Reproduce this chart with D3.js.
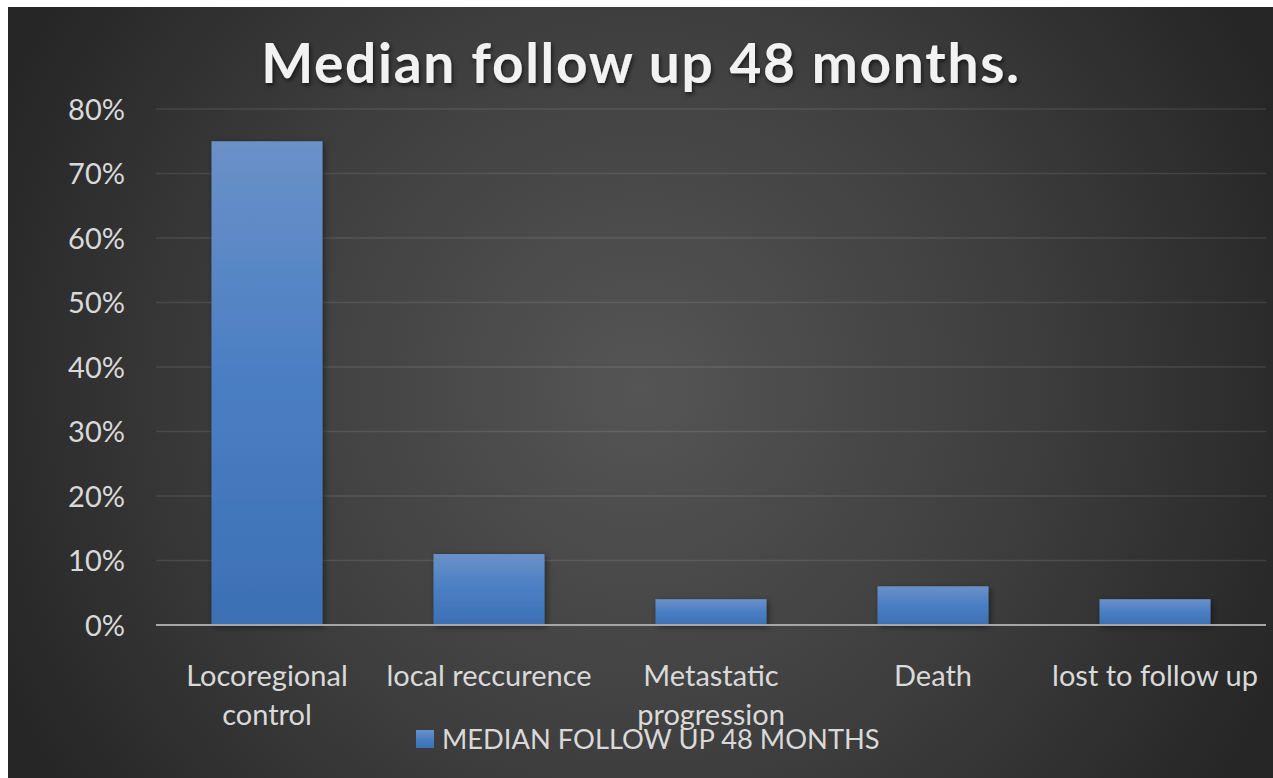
<!DOCTYPE html>
<html>
<head>
<meta charset="utf-8">
<script src="https://cdn.jsdelivr.net/npm/d3@7"></script>
<style>
html,body{margin:0;padding:0;background:#fff;overflow:hidden;}
svg{display:block;}
</style>
</head>
<body>
<svg id="chart" width="1273" height="778"></svg>
<script>
const title = "Median follow up 48 months.";
const categories = ["Locoregional control", "local reccurence", "Metastatic progression", "Death", "lost to follow up"];
const values = [0.75, 0.11, 0.04, 0.06, 0.04];
const seriesName = "MEDIAN FOLLOW UP 48 MONTHS";
const yTicks = [0, 0.1, 0.2, 0.3, 0.4, 0.5, 0.6, 0.7, 0.8];

const W = 1273, H = 778;
const svg = d3.select("#chart");
const defs = svg.append("defs");

const bg = defs.append("radialGradient").attr("id","bg")
  .attr("gradientUnits","userSpaceOnUse")
  .attr("cx",640).attr("cy",390).attr("r",700);
bg.append("stop").attr("offset","0%").attr("stop-color","#555555");
bg.append("stop").attr("offset","55%").attr("stop-color","#3e3e3e");
bg.append("stop").attr("offset","100%").attr("stop-color","#262626");

const bar = defs.append("linearGradient").attr("id","bar")
  .attr("x1",0).attr("y1",0).attr("x2",0).attr("y2",1);
bar.append("stop").attr("offset","0%").attr("stop-color","#6a91c8");
bar.append("stop").attr("offset","50%").attr("stop-color","#4a7ec3");
bar.append("stop").attr("offset","100%").attr("stop-color","#3c70b5");

const sh = defs.append("filter").attr("id","shadow").attr("x","-20%").attr("y","-20%").attr("width","150%").attr("height","150%");
sh.append("feDropShadow").attr("dx",2).attr("dy",2).attr("stdDeviation",3).attr("flood-color","#000").attr("flood-opacity",0.45);

const tsh = defs.append("filter").attr("id","tshadow").attr("x","-10%").attr("y","-30%").attr("width","120%").attr("height","160%");
tsh.append("feDropShadow").attr("dx",1.5).attr("dy",2.5).attr("stdDeviation",2).attr("flood-color","#000").attr("flood-opacity",0.6);

svg.append("rect").attr("x",8).attr("y",7).attr("width",W-8).attr("height",H-7).attr("fill","url(#bg)");

const x = d3.scaleBand().domain(categories).range([156, 1266]).paddingInner(0.5).paddingOuter(0.25);
const y = d3.scaleLinear().domain([0, 0.8]).range([625, 109]);

// gridlines
svg.append("g").selectAll("line").data(yTicks.slice(1)).join("line")
  .attr("x1",156).attr("x2",1266)
  .attr("y1",d=>y(d)).attr("y2",d=>y(d))
  .attr("stroke","#ffffff").attr("stroke-opacity",0.1).attr("stroke-width",1.5);

// y axis labels
const yAxis = d3.axisLeft(y).tickValues(yTicks).tickFormat(d3.format(".0%")).tickSize(0).tickPadding(0);
const ya = svg.append("g").attr("transform","translate(125,0)").call(yAxis);
ya.select(".domain").remove();
ya.selectAll("text").attr("fill","#d9d9d9").attr("font-family","Lato, 'Open Sans', sans-serif")
  .attr("font-size",29).attr("dy","0.35em");

// bars
svg.append("g").selectAll("rect").data(categories).join("rect")
  .attr("x",d=>x(d)).attr("width",x.bandwidth())
  .attr("y",(d,i)=>y(values[i])).attr("height",(d,i)=>y(0)-y(values[i]))
  .attr("fill","url(#bar)").attr("filter","url(#shadow)");

// baseline
svg.append("line").attr("x1",156).attr("x2",1266).attr("y1",y(0)).attr("y2",y(0))
  .attr("stroke","#a6a6a6").attr("stroke-width",2);

// x axis labels
const xAxis = d3.axisBottom(x).tickSize(0).tickPadding(0);
const xa = svg.append("g").attr("transform",`translate(0,${y(0)})`).call(xAxis);
xa.select(".domain").remove();
xa.selectAll("text").attr("fill","#d9d9d9").attr("font-family","Lato, 'Open Sans', sans-serif")
  .attr("font-size",29).attr("y",61).attr("dy",0)
  .each(function(d){
    const t = d3.select(this);
    const words = d.split(" ");
    t.text(null);
    let line = [];
    let ts = t.append("tspan").attr("x",0);
    words.forEach(w=>{
      line.push(w);
      ts.text(line.join(" "));
      if (ts.node().getComputedTextLength() > x.step() && line.length > 1) {
        line.pop();
        ts.text(line.join(" "));
        line = [w];
        ts = t.append("tspan").attr("x",0).text(w);
      }
    });
    t.selectAll("tspan").attr("dy",(d,i)=> i===0 ? 0 : 39);
  });

// legend
const lg = svg.append("g");
lg.append("rect").attr("x",416).attr("y",730).attr("width",18).attr("height",18).attr("fill","url(#bar)");
lg.append("text").attr("x",442).attr("y",749).text(seriesName)
  .attr("fill","#d9d9d9").attr("font-family","Lato, 'Open Sans', sans-serif").attr("font-size",27.3);

// title
const tt = svg.append("text").attr("x",641).attr("y",83).attr("text-anchor","middle")
  .attr("fill","#f2f2f2").attr("font-family","Lato, 'Open Sans', sans-serif")
  .attr("font-weight","bold").attr("font-size",55).attr("filter","url(#tshadow)")
  .text(title);
const natural = tt.node().getComputedTextLength();
const target = 758;
tt.attr("letter-spacing", ((target - natural) / (title.length - 1)).toFixed(2));
</script>
</body>
</html>
